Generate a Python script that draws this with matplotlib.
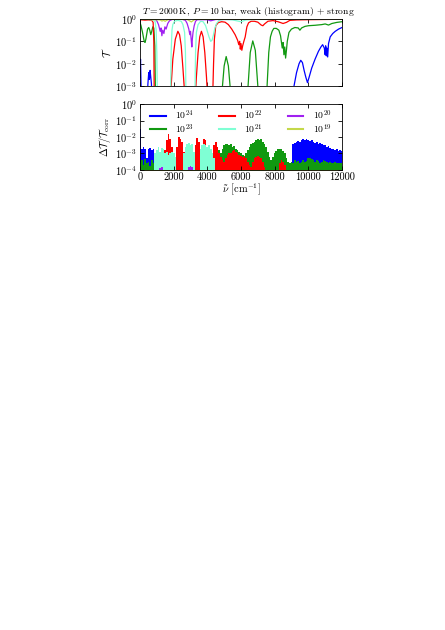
import numpy as np
import matplotlib
matplotlib.use('Agg')
import matplotlib.pyplot as plt
from matplotlib.lines import Line2D

plt.rcParams['mathtext.fontset'] = 'cm'
plt.rcParams['font.family'] = ['cmr10', 'DejaVu Serif']
plt.rcParams['axes.formatter.use_mathtext'] = True
plt.rcParams['font.size'] = 7.5
plt.rcParams['axes.unicode_minus'] = False

labels = [r'$10^{24}$', r'$10^{23}$', r'$10^{22}$', r'$10^{21}$', r'$10^{20}$', r'$10^{19}$']
colors = ['#0000ff', '#119911', '#ff0000', '#7fffd4', '#a020f0', '#c4d84a']

# ---------------- top panel: transmission (log10 T) ----------------
nu_t24 = [0, 30, 60, 100, 400, 470, 520, 560, 600, 640, 680, 720, 9000, 9150, 9300, 9450, 9550,
          9650, 9750, 9850, 9950, 10050, 10200, 10400, 10600, 10750, 10850, 10950, 11000, 11030,
          11070, 11100, 11150, 11200, 11300, 11450, 11600, 11800, 12000]
t24 = [-2.6, -1.8, -2.9, -4, -4, -2.9, -2.4, -2.7, -2.3, -2.6, -2.9, -4, -4, -3.0, -2.4, -2.0, -1.85,
       -1.95, -2.3, -2.6, -2.85, -2.6, -2.2, -1.8, -1.45, -1.25, -1.15, -1.3, -1.6, -1.2,
       -1.65, -1.3, -1.7, -1.1, -0.8, -0.65, -0.55, -0.45, -0.38]

nu_t23 = [0, 60, 150, 250, 300, 350, 450, 520, 580, 640, 700, 760, 820, 880, 930, 4750, 4900, 5000,
          5120, 5250, 5350, 5450, 6300, 6420, 6550, 6700, 6850, 7000, 7100, 7450, 7550, 7650, 7750,
          7850, 7950, 8100, 8250, 8350, 8450, 8500, 8550, 8600, 8650, 8700, 8750, 8850, 9000, 9200,
          9400, 9500, 9600, 9800, 10000, 10400, 10800, 11000, 11200, 11400, 11700, 12000]
t23 = [-0.15, -0.3, -0.6, -1.0, -1.05, -0.9, -0.45, -0.38, -0.5, -0.7, -0.55, -0.35, -0.4, -1.2, -4, -4, -3.0, -2.1,
       -1.68, -2.1, -3.0, -4, -4, -3.0, -1.5, -0.98, -1.4, -3.0, -4, -4, -3.0, -1.5, -0.8,
       -0.55, -0.42, -0.42, -0.5, -0.75, -1.3, -1.05, -1.6, -1.25, -1.75, -1.4, -1.0, -0.6, -0.45, -0.38,
       -0.4, -0.5, -0.4, -0.33, -0.3, -0.28, -0.25, -0.22, -0.27, -0.2, -0.15, -0.12]

nu_t22 = [0, 300, 500, 700, 780, 820, 850, 1750, 1850, 1950, 2100, 2250, 2350, 2450, 2550, 2650, 2700,
          3250, 3350, 3450, 3550, 3650, 3750, 3850, 3950, 4050, 4300, 4370, 4420, 4500, 4650, 4850,
          5050, 5250, 5450, 5650, 5800, 5870, 5920, 5960, 6000, 6050, 6100, 6170, 6250, 6350, 6450,
          6600, 6800, 7000, 7200, 7300, 7400, 7600, 7900, 8200, 8500, 8700, 8900, 9300, 10000,
          11000, 12000]
t22 = [-0.03, -0.05, -0.04, -0.06, -0.15, -1.0, -4, -4, -3.0, -1.8, -0.9, -0.55, -0.7, -1.2, -2.2, -3.3, -4,
       -4, -2.6, -1.5, -0.8, -0.55, -0.8, -1.5, -2.6, -4, -4, -2.0, -0.9, -0.3, -0.16, -0.12,
       -0.14, -0.25, -0.45, -0.7, -0.95, -1.15, -1.0, -1.35, -1.1, -1.4, -1.2, -1.0, -0.8, -0.35, -0.17,
       -0.1, -0.1, -0.14, -0.27, -0.3, -0.22, -0.1, -0.07, -0.12, -0.2, -0.15, -0.06, -0.04, -0.03,
       -0.02, -0.01]

nu_t21 = [0, 500, 800, 900, 960, 1000, 1040, 1800, 1850, 1900, 1950, 2050, 2250, 2450, 2550, 2650,
          2700, 2740, 3250, 3300, 3350, 3450, 3600, 3750, 3900, 4000, 4100, 4200, 4280, 4350, 4450,
          4550, 4700, 5000, 5500, 6000, 6300, 7000, 12000]
t21 = [-0.01, -0.02, -0.04, -0.12, -0.5, -1.5, -4, -4, -1.5, -0.5, -0.25, -0.1, -0.06, -0.1, -0.25, -0.6,
       -1.5, -4, -4, -1.5, -0.6, -0.25, -0.1, -0.12, -0.3, -0.55, -0.8, -1.0, -0.95, -0.75, -0.4,
       -0.2, -0.06, -0.02, -0.04, -0.12, -0.04, -0.02, 0.0]

nu_t20 = [0, 900, 1000, 1100, 1200, 1250, 1300, 1350, 1420, 1480, 1550, 1650, 1750, 1900, 2500, 2700,
          2800, 2900, 2960, 3000, 3050, 3080, 3110, 3150, 3220, 3300, 3400, 4000, 4200, 4300, 4500,
          12000]
t20 = [0.0, -0.01, -0.08, -0.25, -0.55, -0.4, -0.75, -0.5, -0.65, -0.35, -0.45, -0.2, -0.08, -0.02, -0.01, -0.06,
       -0.2, -0.45, -0.7, -0.55, -1.0, -1.25, -0.9, -0.6, -0.3, -0.1, -0.03, -0.03, -0.08, -0.06, -0.02,
       0.0]

nu_t19 = [0, 1200, 1300, 1400, 1500, 1600, 1800, 2800, 2950, 3050, 3150, 3300, 12000]
t19 = [0.0, -0.04, -0.09, -0.06, -0.1, -0.05, -0.01, -0.02, -0.08, -0.13, -0.07, -0.01, 0.0]

# ---------------- bottom panel: log10 (Delta T / T_corr), histogram ----------------
nu_d24 = [0, 100, 200, 300, 400, 500, 600, 700, 800, 900,
          9000, 9100, 9200, 9300, 9400, 9500, 9600, 9700, 9800, 9900,
          10000, 10100, 10200, 10300, 10400, 10500, 10600, 10700, 10800, 10900,
          11000, 11100, 11200, 11300, 11400, 11500, 11600, 11700, 11800, 11900, 12000]
d24 = [-1.5, -2.7, -2.6, -2.75, -3.3, -2.7, -2.65, -2.8, -2.75, -9,
       -9, -2.45, -2.35, -2.3, -2.25, -2.3, -2.2, -2.15, -2.2, -2.15,
       -2.2, -2.25, -2.2, -2.3, -2.35, -2.3, -2.4, -2.35, -2.45, -2.5,
       -2.5, -2.6, -2.55, -2.65, -2.7, -2.75, -2.8, -2.75, -2.85, -2.8, -2.85]

nu_d23 = [0, 100, 200, 300, 400, 500, 600, 700, 800, 900, 1000, 1100,
          4000, 4100, 4200, 4300, 4400, 4500, 4600, 4700, 4800, 4900,
          5000, 5100, 5200, 5300, 5400, 5500, 5600, 5700, 5800, 5900,
          6000, 6100, 6200, 6300, 6400, 6500, 6600, 6700, 6800, 6900,
          7000, 7100, 7200, 7300, 7400, 7500, 7600, 7700, 7800, 7900,
          8000, 8100, 8200, 8300, 8400, 8500, 8600, 8700, 8800, 8900,
          9000, 9100, 9200, 9300, 9400, 9500, 9600, 9700, 9800, 9900,
          10000, 10100, 10200, 10300, 10400, 10500, 10600, 10700, 10800, 10900,
          11000, 11100, 11200, 11300, 11400, 11500, 11600, 11700, 11800, 11900, 12000]
d23 = [-3.6, -3.4, -3.7, -3.35, -3.6, -3.5, -3.75, -3.4, -3.6, -3.5, -3.6, -9,
       -9, -9, -3.3, -3.1, -3.2, -3.0, -2.9, -2.8, -3.0, -2.7,
       -2.5, -2.45, -2.4, -2.5, -2.45, -2.6, -2.55, -2.7, -2.8, -2.9,
       -3.0, -3.1, -3.2, -3.0, -2.8, -2.6, -2.45, -2.35, -2.3, -2.2,
       -2.15, -2.2, -2.15, -2.3, -2.4, -2.6, -2.9, -3.2, -3.4, -3.2,
       -3.0, -2.85, -2.75, -2.7, -2.75, -2.85, -3.0, -3.3, -3.5, -3.6,
       -3.5, -3.6, -3.4, -3.5, -3.45, -3.6, -3.5, -3.4, -3.5, -3.45,
       -3.3, -3.25, -3.35, -3.4, -3.5, -3.4, -3.45, -3.55, -3.5, -3.4,
       -3.45, -3.5, -3.6, -3.5, -3.55, -3.6, -3.5, -3.6, -3.55, -3.6, -3.6]

nu_d22 = [1000, 1100, 1200, 1300, 1400, 1500, 1600, 1700, 1800, 1900,
          2000, 2100, 2200, 2300, 2400, 2500, 2600, 2700, 2800, 2900,
          3000, 3100, 3200, 3300, 3400, 3500, 3600, 3700, 3800, 3900,
          4000, 4100, 4200, 4300, 4400, 4500, 4600, 4700, 4800, 4900,
          5000, 5100, 5200, 5300, 5400, 5500, 5600, 5700, 5800, 5900,
          6000, 6100, 6200, 6300, 6400, 6500, 6600, 6700, 6800, 6900,
          7000, 7100, 7200, 7300, 7400, 7500, 7600, 7700, 7800, 7900,
          8000, 8100, 8200, 8300, 8400, 8500, 8600, 8700, 8800, 8900]
d22 = [-9, -3.5, -3.3, -3.6, -3.2, -2.8, -2.2, -1.8, -2.1, -2.6,
       -3.2, -3.6, -2.6, -2.0, -2.1, -2.3, -2.9, -3.4, -9, -9,
       -9, -9, -3.5, -2.5, -2.05, -2.3, -3.0, -2.6, -2.1, -2.2,
       -2.8, -3.5, -9, -3.3, -2.5, -2.3, -2.6, -3.0, -3.2, -3.4,
       -3.5, -3.3, -3.1, -3.0, -2.95, -2.85, -2.8, -2.9, -3.0, -3.1,
       -3.15, -3.2, -3.15, -3.3, -3.5, -3.7, -3.8, -3.5, -3.3, -3.2,
       -3.15, -3.2, -3.3, -3.5, -3.8, -9, -9, -9, -9, -9,
       -9, -9, -9, -3.6, -3.4, -3.5, -3.7, -9, -9, -9]

nu_d21 = [800, 900,
          1000, 1100, 1200, 1300, 1400, 1500, 1600, 1700, 1800, 1900,
          2000, 2100, 2200, 2300, 2400, 2500, 2600, 2700, 2800, 2900,
          3000, 3100, 3200, 3300, 3400, 3500, 3600, 3700, 3800, 3900,
          4000, 4100, 4200, 4300, 4400, 4500]
d21 = [-9, -3.0,
       -2.8, -2.6, -2.9, -2.65, -2.7, -3.0, -2.9, -3.1, -3.0, -2.9,
       -3.0, -3.2, -9, -9, -9, -9, -3.0, -2.6, -2.4, -2.35,
       -2.5, -2.4, -2.9, -9, -9, -9, -2.7, -2.5, -2.45, -2.5,
       -2.6, -2.5, -2.7, -3.0, -3.3, -9]

nu_d20 = [1100, 1200, 1300, 1400, 2800, 2900, 3000, 3100, 3200]
d20 = [-9, -3.85, -3.8, -9, -9, -3.8, -3.75, -3.8, -9]

nu_d19 = [0, 12000]
d19 = [-9, -9]

top_series = [(nu_t24, t24), (nu_t23, t23), (nu_t22, t22), (nu_t21, t21), (nu_t20, t20), (nu_t19, t19)]
bot_series = [(nu_d24, d24), (nu_d23, d23), (nu_d22, d22), (nu_d21, d21), (nu_d20, d20), (nu_d19, d19)]

fig = plt.figure(figsize=(4.45, 6.30), dpi=100)
ax1 = fig.add_axes([0.3146, 0.8635, 0.4539, 0.1063])
ax2 = fig.add_axes([0.3146, 0.7302, 0.4539, 0.1047])

for (nu, v), c in zip(top_series, colors):
    ax1.plot(nu, 10.0 ** np.array(v), color=c, lw=0.9)

for (nu, v), c in zip(bot_series, colors):
    ax2.fill_between(nu, 1e-4, 10.0 ** np.array(v), step='mid', color=c, lw=0)

for ax in (ax1, ax2):
    ax.set_yscale('log')
    ax.set_xlim(0, 12000)
    ax.set_xticks([0, 2000, 4000, 6000, 8000, 10000, 12000])
    ax.tick_params(direction='in', top=True, right=True, length=3, width=0.6, labelsize=7.5, pad=2)
    ax.tick_params(which='minor', left=False, right=False)
    for s in ax.spines.values():
        s.set_linewidth(0.6)

ax1.set_ylim(1e-3, 1)
ax1.set_yticks([1e-3, 1e-2, 1e-1, 1])
ax1.set_xticklabels([])
ax1.set_ylabel(r'$\mathcal{T}$', labelpad=2)
ax1.text(0.535, 1.02, r'$T = 2000\,$K, $P = 10\,$bar, weak (histogram) + strong',
         transform=ax1.transAxes, ha='center', va='bottom', fontsize=6.9)

ax2.set_ylim(1e-4, 1)
ax2.set_yticks([1e-4, 1e-3, 1e-2, 1e-1, 1])
ax2.set_xticklabels(['0', '2000', '4000', '6000', '8000', '10000', '12000'])
ax2.set_ylabel(r'$\Delta\mathcal{T}/\mathcal{T}_{\rm corr}$', labelpad=2)
ax2.set_xlabel(r'$\tilde{\nu}$ [cm$^{-1}$]', labelpad=0)

handles = [Line2D([], [], color=c, lw=1.5) for c in colors]
ax2.legend(handles, labels, ncol=3, loc='upper left', bbox_to_anchor=(0.05, 0.93, 0.9, 0.0),
           mode='expand', frameon=False, fontsize=7, handlelength=1.6, handletextpad=1.0,
           labelspacing=0.0, borderaxespad=0.0, borderpad=0.0)

fig.savefig('out.png', dpi=100)
